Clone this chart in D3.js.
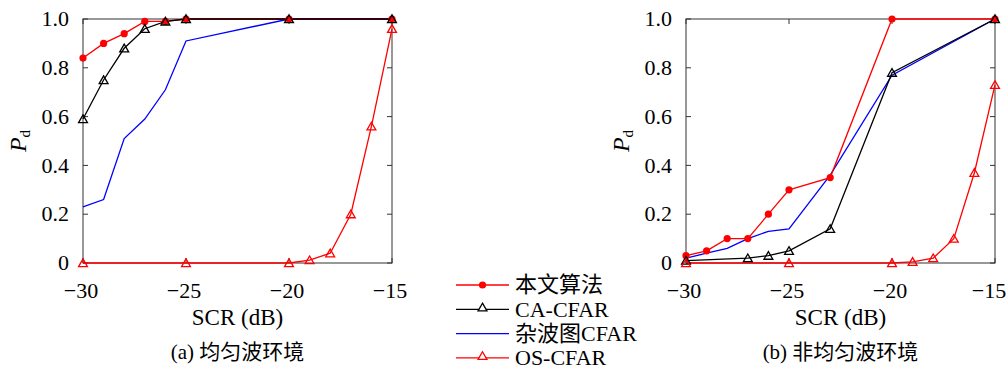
<!DOCTYPE html>
<html>
<head>
<meta charset="utf-8">
<script src="https://cdn.jsdelivr.net/npm/d3@7"></script>
</head>
<body style="margin:0">
<svg id="chart" width="1007" height="367"></svg>
<script>
// x 轴 SCR (dB)
const xTicks = [-30, -25, -20, -15];
const yTicks = [0, 0.2, 0.4, 0.6, 0.8, 1.0];

// (a) 均匀波环境
const a_ours_x = [-30, -29, -28, -27, -26, -25, -20, -15];
const a_ours_y = [0.84, 0.90, 0.94, 0.99, 0.99, 1.0, 1.0, 1.0];
const a_ca_x = [-30, -29, -28, -27, -26, -25, -20, -15];
const a_ca_y = [0.59, 0.75, 0.88, 0.96, 0.99, 1.0, 1.0, 1.0];
const a_clutter_x = [-30, -29, -28, -27, -26, -25, -20, -15];
const a_clutter_y = [0.23, 0.26, 0.51, 0.59, 0.71, 0.91, 1.0, 1.0];
const a_os_x = [-30, -25, -20, -19, -18, -17, -16, -15];
const a_os_y = [0, 0, 0, 0.012, 0.04, 0.20, 0.56, 0.96];

// (b) 非均匀波环境
const b_ours_x = [-30, -29, -28, -27, -26, -25, -23, -20, -15];
const b_ours_y = [0.03, 0.05, 0.10, 0.10, 0.20, 0.30, 0.35, 1.0, 1.0];
const b_ca_x = [-30, -27, -26, -25, -23, -20, -15];
const b_ca_y = [0.01, 0.02, 0.03, 0.05, 0.14, 0.78, 1.0];
const b_clutter_x = [-30, -29, -28, -27, -26, -25, -23, -20, -15];
const b_clutter_y = [0.02, 0.04, 0.06, 0.10, 0.13, 0.14, 0.36, 0.77, 1.0];
const b_os_x = [-30, -25, -20, -19, -18, -17, -16, -15];
const b_os_y = [0, 0, 0, 0.005, 0.02, 0.10, 0.37, 0.73];

const legendNames = ["本文算法", "CA-CFAR", "杂波图CFAR", "OS-CFAR"];

const zip = (xs, ys) => xs.map((x, i) => [x, ys[i]]);

const svg = d3.select("#chart");
const W = 1007;
const pw = 309, ph = 244, plotTop = 19;
const FONT = "Liberation Serif";

const triangle = d3.symbol().type(d3.symbolTriangle).size(34);

function panel(left, caption, series) {
    const g = svg.append("g").attr("transform", `translate(${left},${plotTop})`);
    const x = d3.scaleLinear().domain([-30, -15]).range([0, pw]);
    const y = d3.scaleLinear().domain([0, 1]).range([ph, 0]);

    const clip = "clip" + left;
    g.append("clipPath").attr("id", clip)
        .append("rect").attr("x", -1).attr("y", -1).attr("width", pw + 2).attr("height", ph + 2);

    // frame
    g.append("rect")
        .attr("width", pw).attr("height", ph)
        .attr("fill", "none").attr("stroke", "#333").attr("stroke-width", 1);

    // ticks inside, mirrored
    const tk = 5;
    g.selectAll(".xt").data(xTicks).join("g").attr("class", "xt")
        .call(s => s.append("line").attr("x1", x).attr("x2", x).attr("y1", ph).attr("y2", ph - tk).attr("stroke", "#333"))
        .call(s => s.append("line").attr("x1", x).attr("x2", x).attr("y1", 0).attr("y2", tk).attr("stroke", "#333"))
        .call(s => s.append("text").attr("y", ph + 35)
            .attr("x", d => Math.min(x(d) - 2, W - 18 - left))  // keep last label inside
            .attr("text-anchor", "middle").attr("font-size", 22)
            .text(d => d < 0 ? "\u2212" + Math.abs(d) : d));
    g.selectAll(".yt").data(yTicks).join("g").attr("class", "yt")
        .call(s => s.append("line").attr("x1", 0).attr("x2", tk).attr("y1", y).attr("y2", y).attr("stroke", "#333"))
        .call(s => s.append("line").attr("x1", pw).attr("x2", pw - tk).attr("y1", y).attr("y2", y).attr("stroke", "#333"))
        .call(s => s.append("text").attr("x", -14).attr("y", y).attr("dy", "0.33em")
            .attr("text-anchor", "end").attr("font-size", 22)
            .text(d => d === 0 ? "0" : d.toFixed(1)));

    // axis labels
    g.append("text").attr("x", pw / 2).attr("y", ph + 62)
        .attr("text-anchor", "middle").attr("font-size", 23).text("SCR (dB)");
    const yl = g.append("text")
        .attr("transform", `translate(-57,${ph / 2}) rotate(-90)`)
        .attr("text-anchor", "middle").attr("font-size", 24);
    yl.append("tspan").attr("font-style", "italic").text("P");
    yl.append("tspan").attr("font-size", 15).attr("dy", 4).text("d");

    g.append("text").attr("x", pw / 2).attr("y", ph + 96)
        .attr("text-anchor", "middle").attr("font-size", 21).text(caption);

    const line = d3.line().x(d => x(d[0])).y(d => y(d[1]));
    const plot = g.append("g").attr("clip-path", `url(#${clip})`);
    const marks = g.append("g");

    series.forEach(s => {
        plot.append("path").datum(s.data)
            .attr("d", line).attr("fill", "none")
            .attr("stroke", s.color).attr("stroke-width", 1.3);
        if (s.marker === "circle") {
            marks.append("g").selectAll("circle").data(s.data).join("circle")
                .attr("cx", d => x(d[0])).attr("cy", d => y(d[1])).attr("r", 3.6)
                .attr("fill", s.color);
        } else if (s.marker === "tri") {
            marks.append("g").selectAll("path").data(s.data).join("path")
                .attr("transform", d => `translate(${x(d[0])},${y(d[1]) + 1})`)
                .attr("d", triangle)
                .attr("fill", "none").attr("stroke", s.color).attr("stroke-width", 1.3);
        }
    });
}

const colors = { ours: "#ff0000", ca: "#000000", clutter: "#0000ff", os: "#ff0000" };

panel(83, "(a) 均匀波环境", [
    { data: zip(a_clutter_x, a_clutter_y), color: colors.clutter, marker: null },
    { data: zip(a_ours_x, a_ours_y), color: colors.ours, marker: "circle" },
    { data: zip(a_ca_x, a_ca_y), color: colors.ca, marker: "tri" },
    { data: zip(a_os_x, a_os_y), color: colors.os, marker: "tri" }
]);

panel(686, "(b) 非均匀波环境", [
    { data: zip(b_clutter_x, b_clutter_y), color: colors.clutter, marker: null },
    { data: zip(b_ours_x, b_ours_y), color: colors.ours, marker: "circle" },
    { data: zip(b_ca_x, b_ca_y), color: colors.ca, marker: "tri" },
    { data: zip(b_os_x, b_os_y), color: colors.os, marker: "tri" }
]);

// legend
const legendStyle = [
    { color: colors.ours, marker: "circle" },
    { color: colors.ca, marker: "tri" },
    { color: colors.clutter, marker: null },
    { color: colors.os, marker: "tri" }
];
const lg = svg.append("g").attr("transform", "translate(456,285)");
const row = lg.selectAll("g").data(legendNames).join("g")
    .attr("transform", (d, i) => `translate(0,${i * 24.3})`);
row.append("line").attr("x1", 0).attr("x2", 53)
    .attr("stroke", (d, i) => legendStyle[i].color).attr("stroke-width", 1.3);
row.each(function (d, i) {
    const st = legendStyle[i];
    const r = d3.select(this);
    if (st.marker === "circle") {
        r.append("circle").attr("cx", 26.5).attr("r", 3.6).attr("fill", st.color);
    } else if (st.marker === "tri") {
        r.append("path").attr("transform", "translate(26.5,-1)").attr("d", triangle)
            .attr("fill", "#fff").attr("stroke", st.color).attr("stroke-width", 1.3);
    }
});
row.append("text").attr("x", 59).attr("dy", "0.33em")
    .attr("font-size", 22).text(d => d);

// serif on every text, marked important so nothing else overrides it
svg.selectAll("text, tspan")
    .attr("font-family", FONT)
    .style("font-family", `"${FONT}", "Noto Sans CJK SC"`, "important");
</script>
</body>
</html>
